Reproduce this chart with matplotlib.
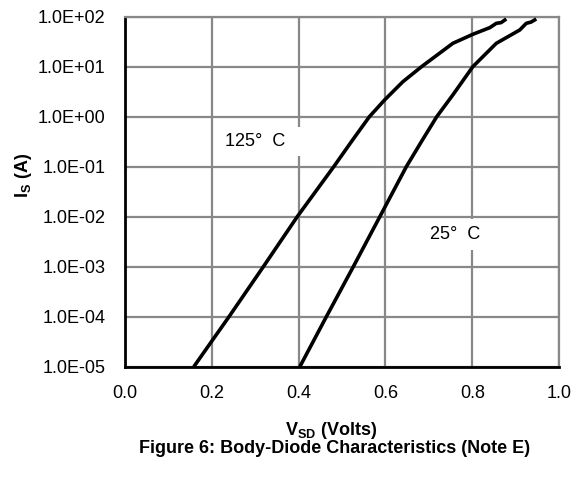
import matplotlib
matplotlib.use('Agg')
import matplotlib.pyplot as plt

plt.rcParams['font.family'] = ['Liberation Sans', 'DejaVu Sans']
plt.rcParams['mathtext.fontset'] = 'custom'
plt.rcParams['mathtext.rm'] = 'Liberation Sans'
plt.rcParams['mathtext.bf'] = 'Liberation Sans:bold'

# 125 C curve (V_SD, I_S)
v_125 = [0.159, 0.240, 0.319, 0.397, 0.481, 0.522, 0.563, 0.598, 0.640, 0.683,
         0.755, 0.801, 0.840, 0.855, 0.866, 0.878]
i_125 = [1e-5, 1e-4, 1e-3, 1e-2, 1e-1, 3.2e-1, 1e0, 2.16e0, 5.0e0, 1e1,
         2.93e1, 4.44e1, 6.03e1, 7.36e1, 7.6e1, 9.0e1]

# 25 C curve (V_SD, I_S)
v_25 = [0.403, 0.464, 0.526, 0.587, 0.648, 0.683, 0.718, 0.755, 0.801,
        0.855, 0.886, 0.909, 0.924, 0.935, 0.947]
i_25 = [1e-5, 1e-4, 1e-3, 1e-2, 1e-1, 3.2e-1, 1e0, 2.72e0, 1e1,
        2.93e1, 4.17e1, 5.42e1, 7.36e1, 7.8e1, 9.0e1]

xticks = [0.0, 0.2, 0.4, 0.6, 0.8, 1.0]
yticks = [1e-5, 1e-4, 1e-3, 1e-2, 1e-1, 1e0, 1e1, 1e2]
ylabels = ['1.0E-05', '1.0E-04', '1.0E-03', '1.0E-02', '1.0E-01', '1.0E+00', '1.0E+01', '1.0E+02']

fig = plt.figure(figsize=(5.79, 4.79), dpi=100)
ax = fig.add_axes([0.2154, 0.2345, 0.7506, 0.7307])

ax.plot(v_125, i_125, color='black', lw=2.6, solid_capstyle='butt', zorder=3)
ax.plot(v_25, i_25, color='black', lw=2.6, solid_capstyle='butt', zorder=3)

ax.set_yscale('log')
ax.set_xlim(0, 1.0)
ax.set_ylim(1e-5, 1e2)
ax.set_xticks(xticks)
ax.set_xticklabels(['%.1f' % x for x in xticks])
ax.set_yticks(yticks)
ax.set_yticklabels(ylabels)
ax.minorticks_off()
ax.tick_params(length=0, labelsize=13)
ax.tick_params(axis='y', pad=14)
ax.tick_params(axis='x', pad=13)

ax.grid(True, color='#888888', lw=1.6)
ax.set_axisbelow(True)
for s in ['top', 'right']:
    ax.spines[s].set_color('#888888')
    ax.spines[s].set_linewidth(1.6)
for s in ['left', 'bottom']:
    ax.spines[s].set_color('black')
    ax.spines[s].set_linewidth(2)

# curve labels, white boxes hide the grid behind them
ax.text(0.2306, 0.319, '125°  C   ', fontsize=13, ha='left', va='center',
        bbox=dict(facecolor='white', edgecolor='none', pad=4), zorder=2)
ax.text(0.702, 0.0044, '25°  C    ', fontsize=13, ha='left', va='center',
        bbox=dict(facecolor='white', edgecolor='none', pad=5), zorder=2)

fig.text(0.04, 0.633, r'$\mathbf{I_S}$ (A)', fontsize=13, fontweight='bold',
         rotation=90, ha='center', va='center')
fig.text(0.571, 0.092, r'$\mathbf{V_{SD}}$ (Volts)', fontsize=13, fontweight='bold',
         ha='center', va='baseline')
fig.text(0.578, 0.0543, 'Figure 6: Body-Diode Characteristics (Note E)', fontsize=13,
         fontweight='bold', ha='center', va='baseline')

fig.savefig('out.png', dpi=100)
